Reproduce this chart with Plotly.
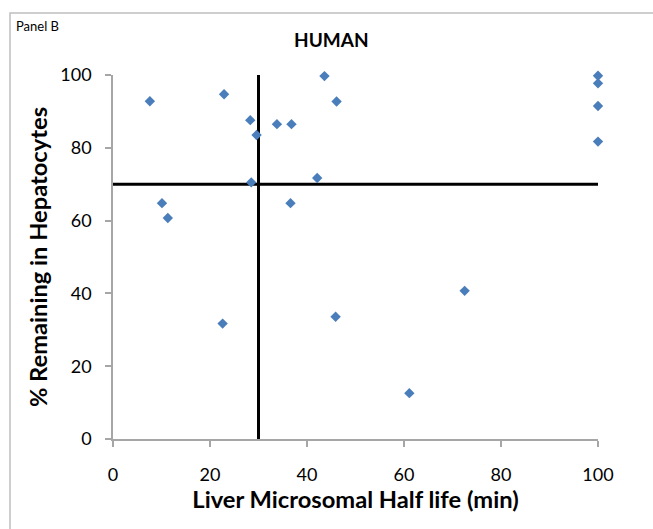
import plotly.graph_objects as go

# Data
half_life_min = [7.6, 22.9, 28.3, 29.6, 33.8, 36.8, 43.6, 46.1, 28.5, 42.1,
                 10.1, 11.3, 36.6, 22.6, 45.9, 72.5, 61.1, 100, 100, 100, 100]
pct_remaining = [92.8, 94.7, 87.6, 83.5, 86.5, 86.5, 99.7, 92.7, 70.5, 71.7,
                 64.8, 60.7, 64.8, 31.7, 33.6, 40.7, 12.6, 99.8, 97.7, 91.5, 81.7]

# Threshold lines
hl_cutoff_x = [30, 30]
hl_cutoff_y = [0, 100]
rem_cutoff_x = [0, 100]
rem_cutoff_y = [70, 70]

tick_vals = [0, 20, 40, 60, 80, 100]

W, H = 653, 529
ml, mr, mt, mb = 113, 55, 75, 90
FONT = "Lato, Open Sans, sans-serif"

fig = go.Figure()
fig.add_trace(go.Scatter(x=hl_cutoff_x, y=hl_cutoff_y, mode="lines",
                         line=dict(color="black", width=3), hoverinfo="skip",
                         showlegend=False, cliponaxis=False))
fig.add_trace(go.Scatter(x=rem_cutoff_x, y=rem_cutoff_y, mode="lines",
                         line=dict(color="black", width=3), hoverinfo="skip",
                         showlegend=False, cliponaxis=False))
fig.add_trace(go.Scatter(x=half_life_min, y=pct_remaining, mode="markers",
                         marker=dict(symbol="diamond", size=8, color="#4A7EBB",
                                     line=dict(width=0)),
                         showlegend=False, cliponaxis=False))

pw = W - ml - mr
ph = H - mt - mb

def px_to_paper_x(px):
    return (px - ml) / pw

def px_to_paper_y(py):
    return (H - mb - py) / ph

axis_common = dict(range=[0, 100], tickvals=tick_vals, showgrid=False,
                   zeroline=False, showline=True, linecolor="#A6A6A6",
                   linewidth=1.5, ticks="outside", ticklen=6, tickwidth=1.5,
                   tickcolor="#A6A6A6",
                   tickfont=dict(family=FONT, size=18, color="black"))

fig.update_layout(
    width=W, height=H,
    margin=dict(l=ml, r=mr, t=mt, b=mb),
    paper_bgcolor="white", plot_bgcolor="white",
    xaxis=dict(**axis_common, ticklabelstandoff=13,
               title=dict(text="<b>Liver Microsomal Half life (min)</b>",
                          font=dict(family=FONT, size=23.7, color="black"),
                          standoff=7)),
    yaxis=dict(**axis_common, ticklabelstandoff=10,
               title=dict(text="<b>% Remaining in Hepatocytes</b>",
                          font=dict(family=FONT, size=23.7, color="black"),
                          standoff=6)),
    shapes=[dict(type="rect", xref="paper", yref="paper",
                 x0=px_to_paper_x(10), x1=px_to_paper_x(W + 20),
                 y0=px_to_paper_y(H + 20), y1=px_to_paper_y(13),
                 line=dict(color="#BFBFBF", width=1.5), layer="below")],
    annotations=[
        dict(text="<b>HUMAN</b>", xref="paper", yref="paper",
             x=px_to_paper_x(331), y=px_to_paper_y(40), showarrow=False,
             xanchor="center", yanchor="middle",
             font=dict(family=FONT, size=19, color="black")),
        dict(text="Panel B", xref="paper", yref="paper",
             x=px_to_paper_x(14), y=px_to_paper_y(26), showarrow=False,
             xanchor="left", yanchor="middle",
             font=dict(family=FONT, size=13, color="black")),
    ],
)

fig.write_html("out.html")
